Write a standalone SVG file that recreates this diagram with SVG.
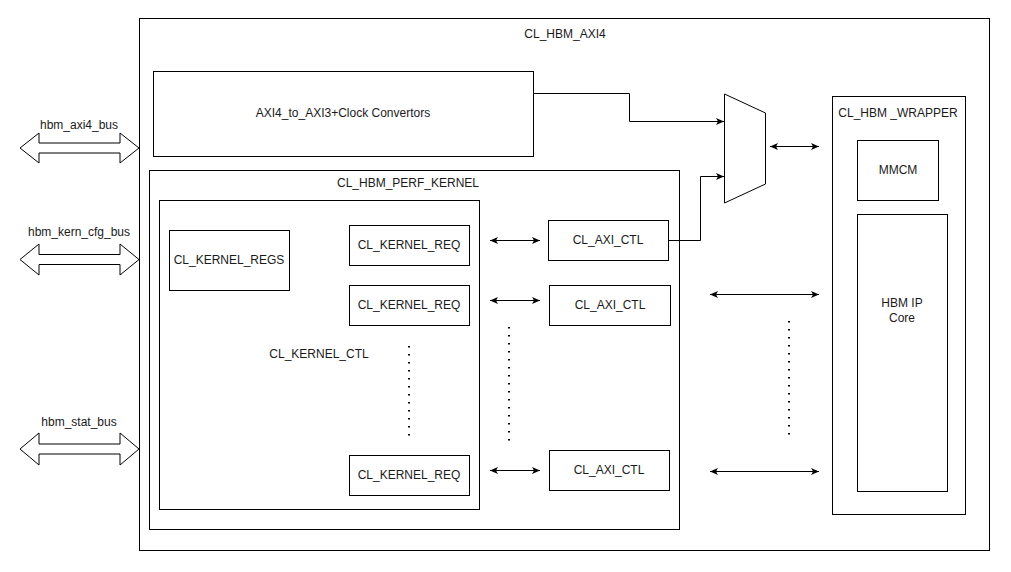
<svg xmlns="http://www.w3.org/2000/svg" width="1011" height="572" viewBox="0 0 1011 572">
<style>
.box{fill:#fff;stroke:#000;stroke-width:1}
.t{font-family:"Liberation Sans",Arial,sans-serif;font-size:12px;fill:#1a1a1a;text-anchor:middle}
.c{fill:none;stroke:#000;stroke-width:1}
.dot{fill:none;stroke:#000;stroke-width:2;stroke-dasharray:1.5 6.5}
.bus{fill:#fff;stroke:#000;stroke-width:1}
</style>
<defs>
<marker id="ah" markerUnits="userSpaceOnUse" markerWidth="10" markerHeight="10" refX="8" refY="3.5" orient="auto-start-reverse">
<path d="M0,0 L8,3.5 L0,7 L2,3.5 z" fill="#000"/>
</marker>
</defs>
<rect width="1011" height="572" fill="#fff"/>
<g id="cl_hbm_axi4">
<rect class="box" x="139.5" y="18.5" width="850" height="532"/>
<text class="t" x="565" y="38">CL_HBM_AXI4</text>
</g>
<g id="axi_conv">
<rect class="box" x="153.5" y="71.5" width="380" height="85"/>
<text class="t" x="343" y="117">AXI4_to_AXI3+Clock Convertors</text>
</g>
<g id="perf_kernel">
<rect class="box" x="149.5" y="170.5" width="530" height="359"/>
<text class="t" x="408" y="187">CL_HBM_PERF_KERNEL</text>
</g>
<g id="kernel_ctl">
<rect class="box" x="159.5" y="200.5" width="320" height="309"/>
<text class="t" x="319" y="358">CL_KERNEL_CTL</text>
<line class="dot" x1="409" y1="346" x2="409" y2="436"/>
</g>
<g id="kernel_regs">
<rect class="box" x="169.5" y="230.5" width="120" height="60"/>
<text class="t" x="229" y="264">CL_KERNEL_REGS</text>
</g>
<g id="kernel_req1">
<rect class="box" x="349.5" y="225.5" width="120" height="40"/>
<text class="t" x="409" y="249">CL_KERNEL_REQ</text>
</g>
<g id="kernel_req2">
<rect class="box" x="349.5" y="285.5" width="120" height="40"/>
<text class="t" x="409" y="309">CL_KERNEL_REQ</text>
</g>
<g id="kernel_req3">
<rect class="box" x="349.5" y="455.5" width="120" height="40"/>
<text class="t" x="409" y="479">CL_KERNEL_REQ</text>
</g>
<g id="axi_ctl1">
<rect class="box" x="548.5" y="220.5" width="120" height="40"/>
<text class="t" x="608" y="244">CL_AXI_CTL</text>
</g>
<g id="axi_ctl2">
<rect class="box" x="549.5" y="285.5" width="121" height="40"/>
<text class="t" x="610" y="309">CL_AXI_CTL</text>
</g>
<g id="axi_ctl3">
<rect class="box" x="549.5" y="450.5" width="120" height="40"/>
<text class="t" x="609" y="474">CL_AXI_CTL</text>
</g>
<g id="mux">
<path class="box" d="M724.5,94 L765.5,113 L765.5,184 L724.5,203 Z"/>
</g>
<g id="wrapper">
<rect class="box" x="832.5" y="96.5" width="133" height="418"/>
<text class="t" x="898" y="117">CL_HBM _WRAPPER</text>
</g>
<g id="mmcm">
<rect class="box" x="857.5" y="140.5" width="81" height="60"/>
<text class="t" x="898" y="174">MMCM</text>
</g>
<g id="hbm_ip">
<rect class="box" x="857.5" y="214.5" width="90" height="277"/>
<text class="t" x="902" y="307">HBM IP</text>
<text class="t" x="902" y="322">Core</text>
</g>
<g id="bus_axi4">
<path class="bus" d="M20,148 L39,133 L39,143 L120,143 L120,133 L139,148 L120,163 L120,153 L39,153 L39,163 Z"/>
<text class="t" x="79" y="129">hbm_axi4_bus</text>
</g>
<g id="bus_kern_cfg">
<path class="bus" d="M20,259.5 L39,244 L39,254.5 L120,254.5 L120,244 L139,259.5 L120,275 L120,264.5 L39,264.5 L39,275 Z"/>
<text class="t" x="79" y="236">hbm_kern_cfg_bus</text>
</g>
<g id="bus_stat">
<path class="bus" d="M20,449 L39,433 L39,444 L120,444 L120,433 L139,449 L120,465 L120,454 L39,454 L39,465 Z"/>
<text class="t" x="79" y="426">hbm_stat_bus</text>
</g>
<g id="connectors">
<path class="c" d="M533.5,93.5 H629.5 V121.5 H724" marker-end="url(#ah)"/>
<path class="c" d="M668.5,240.5 H700.5 V176.5 H724" marker-end="url(#ah)"/>
<path class="c" d="M770,146.5 H819" marker-start="url(#ah)" marker-end="url(#ah)"/>
<path class="c" d="M490,240.5 H540" marker-start="url(#ah)" marker-end="url(#ah)"/>
<path class="c" d="M490,300.5 H540" marker-start="url(#ah)" marker-end="url(#ah)"/>
<path class="c" d="M490,470.5 H540" marker-start="url(#ah)" marker-end="url(#ah)"/>
<path class="c" d="M710,294.5 H819" marker-start="url(#ah)" marker-end="url(#ah)"/>
<path class="c" d="M710,471.5 H819" marker-start="url(#ah)" marker-end="url(#ah)"/>
<line class="dot" x1="509" y1="327" x2="509" y2="441"/>
<line class="dot" x1="789" y1="321" x2="789" y2="435"/>
</g>
</svg>
